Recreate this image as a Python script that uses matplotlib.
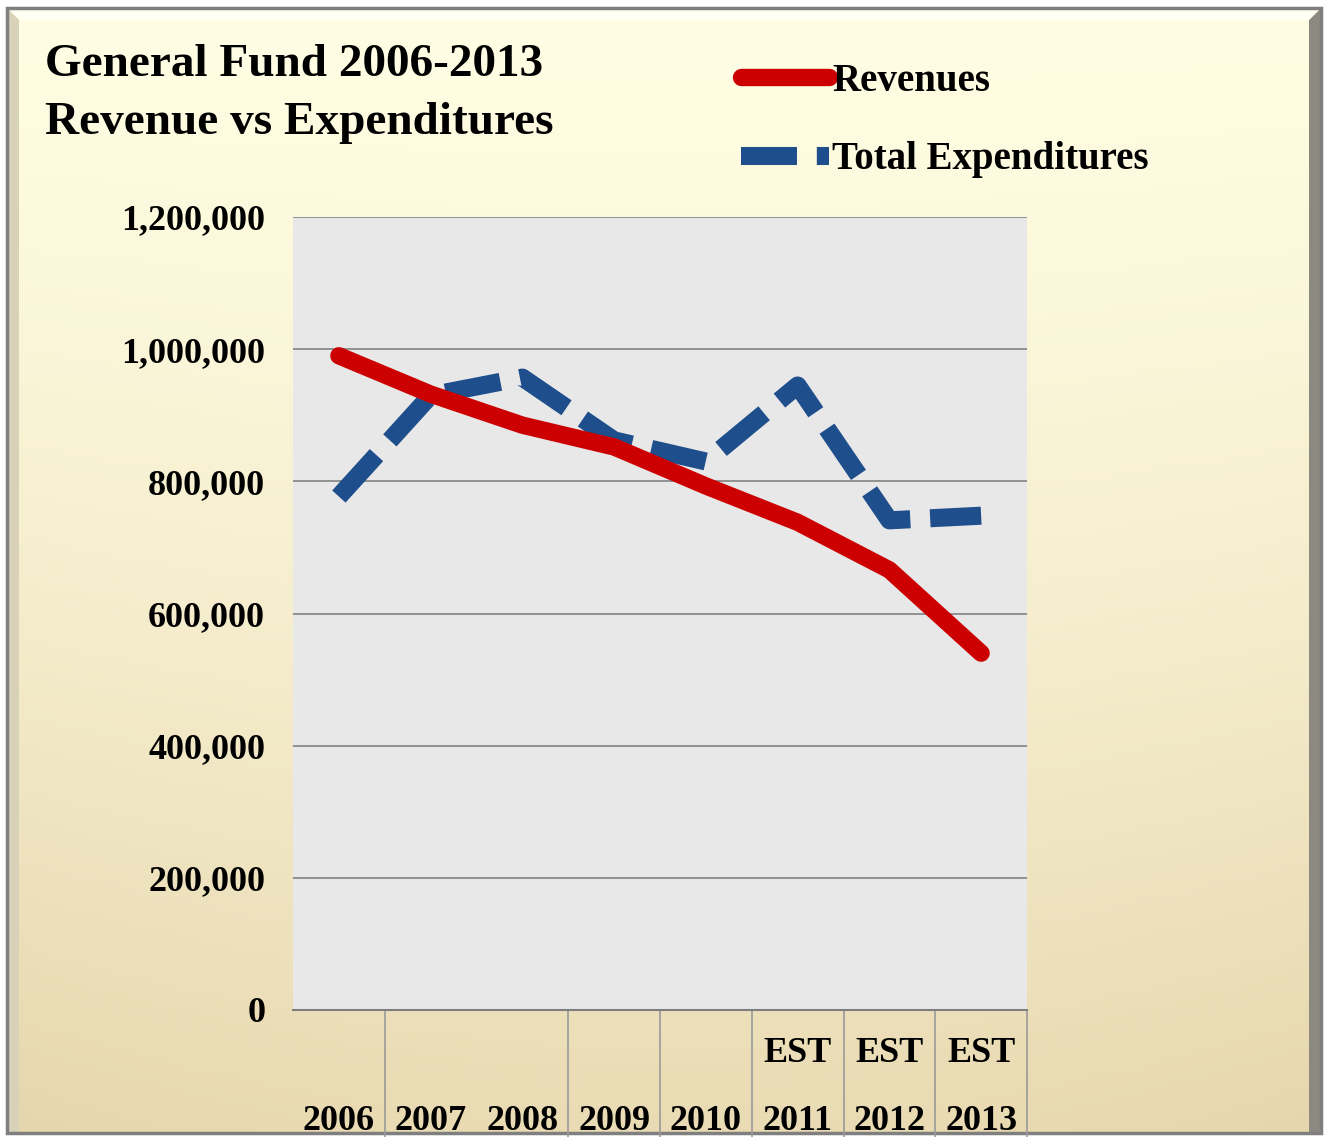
import numpy as np
import matplotlib.pyplot as plt
from matplotlib.patches import Polygon, Rectangle
from matplotlib.ticker import FuncFormatter
import matplotlib.transforms as mtransforms

plt.rcParams['font.family'] = ['Liberation Serif', 'DejaVu Serif']
plt.rcParams['font.weight'] = 'bold'

# data
years = ['2006', '2007', '2008', '2009', '2010', '2011', '2012', '2013']
est_flag = ['', '', '', '', '', 'EST', 'EST', 'EST']
revenues = [990000, 932000, 885000, 852000, 793000, 738000, 666000, 540000]
expenditures = [777000, 930000, 957000, 862000, 830000, 945000, 741000, 748000]
y_ticks = [0, 200000, 400000, 600000, 800000, 1000000, 1200000]

W, H = 1328, 1137
fig = plt.figure(figsize=(W / 100, H / 100), dpi=100)
fig.patch.set_facecolor('white')

# background with gradient and bevelled frame
bg = fig.add_axes([0, 0, 1, 1], zorder=-5)
bg.set_xlim(0, W)
bg.set_ylim(H, 0)
bg.axis('off')
yy, xx = np.mgrid[0:1:200j, 0:1:200j]
top = np.array([1.0, 0.992, 0.89])
bot = np.array([0.90, 0.835, 0.67])
t = np.clip(yy ** 1.4 * 0.85 + ((xx - 0.5) ** 2) * 0.5 * yy, 0, 1)
grad = top[None, None, :] * (1 - t[..., None]) + bot[None, None, :] * t[..., None]
bg.imshow(grad, extent=(7, 1321, 1133, 8), aspect='auto', zorder=0)
# bevels
bg.add_patch(Polygon([[1309, 20], [1321, 8], [1321, 1133], [1309, 1133]],
                     closed=True, facecolor='#8c8a80', edgecolor='none', zorder=1))
bg.add_patch(Polygon([[7, 8], [1321, 8], [1309, 20], [19, 20]],
                     closed=True, facecolor='#fffff2', edgecolor='none', zorder=1))
bg.add_patch(Polygon([[7, 8], [19, 20], [19, 1133], [7, 1133]],
                     closed=True, facecolor='#d8d2b8', edgecolor='none', zorder=1))
bg.add_patch(Rectangle((7, 8), 1314, 1125, facecolor='none', edgecolor='#7f7f7f', lw=2.5, zorder=2))

# plot area
ax = fig.add_axes([293 / W, 1 - 1010 / H, (1027 - 293) / W, (1010 - 217) / H])
ax.set_facecolor('#e8e8e8')
x = np.arange(len(years))

ax.plot(x, expenditures, color='#1f4e8c', lw=13, dashes=(3.1, 1.1),
        dash_capstyle='butt', solid_joinstyle='miter', label='Total Expenditures', zorder=3)
ax.plot(x, revenues, color='#cc0000', lw=12.5, solid_capstyle='round',
        solid_joinstyle='round', label='Revenues', zorder=4)

ax.set_xlim(-0.5, len(years) - 0.5)
ax.set_ylim(0, 1200000)
ax.set_yticks(y_ticks)
ax.yaxis.set_major_formatter(FuncFormatter(lambda v, p: '{:,.0f}'.format(v)))
ax.tick_params(axis='y', length=0, pad=20, labelsize=26)
ax.set_xticks([])
ax.grid(axis='y', color='#8a8a8a', lw=1.3, zorder=1)
ax.set_axisbelow(True)
for s in ['left', 'right', 'top']:
    ax.spines[s].set_visible(False)
ax.spines['bottom'].set_color('#7f7f7f')
ax.spines['bottom'].set_linewidth(1.5)

# category labels and separators below the axis
trans = mtransforms.blended_transform_factory(ax.transData, ax.transAxes)
for i, (yr, est) in enumerate(zip(years, est_flag)):
    ax.text(i, -0.141, yr, transform=trans, ha='center', va='center', fontsize=26, clip_on=False)
    if est:
        ax.text(i, -0.055, est, transform=trans, ha='center', va='center', fontsize=26, clip_on=False)
seps = [0.5, 2.5, 3.5, 4.5, 5.5, 6.5, 7.5]
ax.vlines(seps, -0.16, 0, transform=trans, color='#9a9a9a', lw=1.2, clip_on=False)

# legend
h, l = ax.get_legend_handles_labels()
fig.legend(h[::-1], l[::-1], loc='upper left', bbox_to_anchor=(741 / W, 1 - 63 / H),
           frameon=False, fontsize=28, handlelength=2.25, handletextpad=0.1,
           labelspacing=1.06, borderpad=0, borderaxespad=0)

fig.text(45 / W, 1 - 65 / H, 'General Fund 2006-2013', fontsize=34, va='center', ha='left')
fig.text(45 / W, 1 - 123 / H, 'Revenue vs Expenditures', fontsize=34, va='center', ha='left')

fig.savefig('out.png', dpi=100)
